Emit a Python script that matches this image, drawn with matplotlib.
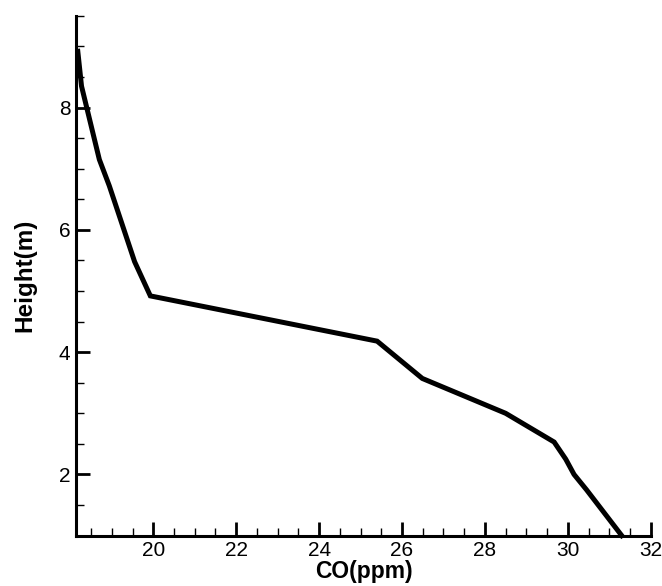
import matplotlib
matplotlib.use("Agg")
import matplotlib.pyplot as plt
from matplotlib.ticker import MultipleLocator

# CO concentration profile
co_ppm = [18.18, 18.27, 18.70, 18.94, 19.55, 19.93, 25.40, 26.49,
          28.50, 29.67, 29.95, 30.15, 30.45, 31.30]
height_m = [8.92, 8.35, 7.15, 6.72, 5.48, 4.92, 4.18, 3.57,
            3.00, 2.53, 2.25, 2.00, 1.75, 1.00]

plt.rcParams["font.family"] = ["Liberation Sans", "DejaVu Sans"]

fig = plt.figure(figsize=(6.62, 5.86), dpi=100)
ax = fig.add_axes([0.115, 0.086, 0.868, 0.887])

ax.plot(co_ppm, height_m, color="black", linewidth=3.6, solid_joinstyle="miter",
        clip_on=False)

ax.set_xlim(18.14, 32.0)
ax.set_ylim(1.0, 9.5)

ax.xaxis.set_major_locator(MultipleLocator(2))
ax.xaxis.set_minor_locator(MultipleLocator(0.5))
ax.yaxis.set_major_locator(MultipleLocator(2))
ax.yaxis.set_minor_locator(MultipleLocator(0.5))

for side in ("top", "right"):
    ax.spines[side].set_visible(False)
for side in ("left", "bottom"):
    ax.spines[side].set_linewidth(2.2)

ax.tick_params(which="major", direction="in", length=10, width=2.0,
               labelsize=15, pad=4)
ax.tick_params(which="minor", direction="in", length=6, width=1.0)

ax.set_xlabel("CO(ppm)", fontsize=16.5, fontweight="bold", labelpad=0)
ax.set_ylabel("Height(m)", fontsize=17.5, fontweight="bold", labelpad=16)

fig.savefig("out.png", dpi=100)
